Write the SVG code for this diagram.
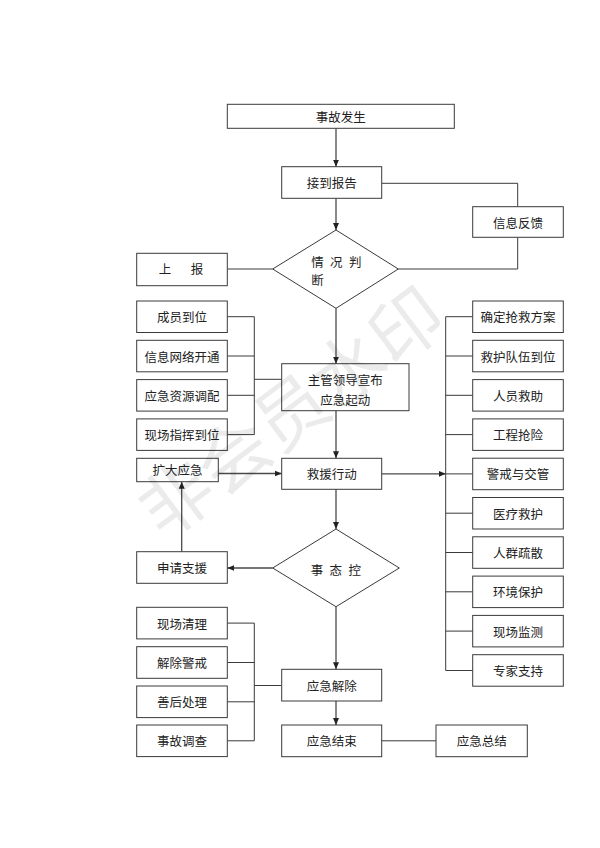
<svg xmlns="http://www.w3.org/2000/svg" width="600" height="848" viewBox="0 0 600 848">
<style>
.b{fill:#fff;stroke:#3a3a3a;stroke-width:1}
.t{font-family:"Noto Sans CJK SC","Liberation Sans",sans-serif;font-size:12.5px;fill:#222;text-anchor:middle;dominant-baseline:central}
.c{fill:none;stroke:#3a3a3a;stroke-width:1}
.a{fill:none;stroke:#4a4a4a;stroke-width:1.3;marker-end:url(#ah)}
.wm{font-family:"Noto Sans CJK SC",sans-serif;font-size:72px;fill:#000;fill-opacity:0.08;text-anchor:middle;dominant-baseline:central}
</style>
<defs>
<marker id="ah" markerWidth="8" markerHeight="8" refX="7" refY="4" orient="auto" markerUnits="userSpaceOnUse">
<path d="M0,1 L7,4 L0,7 Z" fill="#222"/>
</marker>
</defs>
<rect width="600" height="848" fill="#fff"/>
<g id="connectors">
<line class="a" x1="336" y1="128.3" x2="336" y2="166.7"/>
<line class="a" x1="336" y1="198.3" x2="336" y2="230"/>
<polyline class="c" points="381.7,183.3 517.7,183.3 517.7,206.7"/>
<polyline class="c" points="517.7,237.3 517.7,269 398.3,269"/>
<line class="c" x1="227.3" y1="269" x2="272.7" y2="269"/>
<line class="a" x1="336" y1="308.3" x2="336" y2="363.7"/>
<path class="c" d="M227.3,316.7H254.3M227.3,356H254.3M227.3,395.3H254.3M227.3,434.6H254.3M254.3,316.7V434.6M254.3,379.3H281.7"/>
<line class="a" x1="336" y1="410.7" x2="336" y2="458.3"/>
<line class="a" x1="218.3" y1="473.5" x2="281.7" y2="473.5"/>
<line class="a" x1="381.7" y1="473.8" x2="445.7" y2="473.8"/>
<path class="c" d="M445.7,316.7V670.5M445.7,316.7H472.7M445.7,356H472.7M445.7,395.3H472.7M445.7,434.6H472.7M445.7,473.9H472.7M445.7,513.2H472.7M445.7,552.5H472.7M445.7,591.8H472.7M445.7,631.1H472.7M445.7,670.5H472.7"/>
<line class="a" x1="336" y1="489.3" x2="336" y2="529"/>
<line class="a" x1="272.7" y1="568" x2="227.3" y2="568"/>
<line class="a" x1="181.7" y1="551.7" x2="181.7" y2="481.7"/>
<line class="a" x1="336" y1="606.7" x2="336" y2="669.3"/>
<path class="c" d="M227.3,623.1H254.3M227.3,662.5H254.3M227.3,701.8H254.3M227.3,740.8H254.3M254.3,623.1V740.8M254.3,685.5H281.7"/>
<line class="a" x1="336" y1="701" x2="336" y2="725"/>
<line class="c" x1="381.7" y1="740.8" x2="436" y2="740.8"/>
</g>
<g id="n_start"><rect class="b" x="227.3" y="104.3" width="227" height="24"/><text class="t" x="340.8" y="116.5">事故发生</text></g>
<g id="n_report"><rect class="b" x="281.7" y="166.7" width="100" height="31.6"/><text class="t" x="331.7" y="182.5">接到报告</text></g>
<g id="n_feedback"><rect class="b" x="472.7" y="206.7" width="90.6" height="30.6"/><text class="t" x="518" y="222">信息反馈</text></g>
<g id="d_judge"><polygon class="b" points="272.7,269 336,230 398.3,269 336,308.3"/><text class="t" style="text-anchor:start;letter-spacing:6.3px" x="311.3" y="261.5">情况判</text><text class="t" style="text-anchor:start" x="311.3" y="279.5">断</text></g>
<g id="n_up"><rect class="b" x="136.7" y="253.3" width="90.6" height="32.4"/><text class="t" x="165" y="268.5">上</text><text class="t" x="197" y="268.5">报</text></g>
<g id="n_l1"><rect class="b" x="136.7" y="301" width="90.6" height="31.5"/><text class="t" x="182" y="316.7">成员到位</text></g>
<g id="n_l2"><rect class="b" x="136.7" y="340.3" width="90.6" height="31.5"/><text class="t" x="182" y="356">信息网络开通</text></g>
<g id="n_l3"><rect class="b" x="136.7" y="379.6" width="90.6" height="31.5"/><text class="t" x="182" y="395.3">应急资源调配</text></g>
<g id="n_l4"><rect class="b" x="136.7" y="418.9" width="90.6" height="31.5"/><text class="t" x="182" y="434.6">现场指挥到位</text></g>
<g id="n_lead"><rect class="b" x="281.7" y="363.7" width="127.3" height="47"/><text class="t" x="345.3" y="379">主管领导宣布</text><text class="t" x="345.3" y="399">应急起动</text></g>
<g id="n_rescue"><rect class="b" x="281.7" y="458.3" width="100" height="31"/><text class="t" x="331.7" y="473.8">救援行动</text></g>
<g id="n_expand"><rect class="b" x="136.7" y="458.3" width="81.6" height="23.4"/><text class="t" x="177.5" y="469.5">扩大应急</text></g>
<g id="n_r1"><rect class="b" x="472.7" y="301" width="90.6" height="31.5"/><text class="t" x="518" y="316.7">确定抢救方案</text></g>
<g id="n_r2"><rect class="b" x="472.7" y="340.3" width="90.6" height="31.5"/><text class="t" x="518" y="356">救护队伍到位</text></g>
<g id="n_r3"><rect class="b" x="472.7" y="379.6" width="90.6" height="31.5"/><text class="t" x="518" y="395.3">人员救助</text></g>
<g id="n_r4"><rect class="b" x="472.7" y="418.9" width="90.6" height="31.5"/><text class="t" x="518" y="434.6">工程抢险</text></g>
<g id="n_r5"><rect class="b" x="472.7" y="458.2" width="90.6" height="31.5"/><text class="t" x="518" y="473.9">警戒与交管</text></g>
<g id="n_r6"><rect class="b" x="472.7" y="497.5" width="90.6" height="31.5"/><text class="t" x="518" y="513.2">医疗救护</text></g>
<g id="n_r7"><rect class="b" x="472.7" y="536.8" width="90.6" height="31.5"/><text class="t" x="518" y="552.5">人群疏散</text></g>
<g id="n_r8"><rect class="b" x="472.7" y="576.1" width="90.6" height="31.5"/><text class="t" x="518" y="591.8">环境保护</text></g>
<g id="n_r9"><rect class="b" x="472.7" y="615.4" width="90.6" height="31.5"/><text class="t" x="518" y="631.1">现场监测</text></g>
<g id="n_r10"><rect class="b" x="472.7" y="654.7" width="90.6" height="31.5"/><text class="t" x="518" y="670.5">专家支持</text></g>
<g id="d_control"><polygon class="b" points="272.7,568 336,529 399.3,568 336,606.7"/><text class="t" style="letter-spacing:6.3px" x="339" y="569">事态控</text></g>
<g id="n_support"><rect class="b" x="136.7" y="551.7" width="90.6" height="31.6"/><text class="t" x="182" y="567.5">申请支援</text></g>
<g id="n_b1"><rect class="b" x="136.7" y="607.3" width="90.6" height="31.6"/><text class="t" x="182" y="623.1">现场清理</text></g>
<g id="n_b2"><rect class="b" x="136.7" y="646.7" width="90.6" height="31.6"/><text class="t" x="182" y="662.5">解除警戒</text></g>
<g id="n_b3"><rect class="b" x="136.7" y="686" width="90.6" height="31.6"/><text class="t" x="182" y="701.8">善后处理</text></g>
<g id="n_b4"><rect class="b" x="136.7" y="725" width="90.6" height="31.6"/><text class="t" x="182" y="740.8">事故调查</text></g>
<g id="n_lift"><rect class="b" x="281.7" y="669.3" width="100" height="31.7"/><text class="t" x="331.7" y="685.2">应急解除</text></g>
<g id="n_end"><rect class="b" x="281.7" y="725" width="100" height="31.7"/><text class="t" x="331.7" y="740.8">应急结束</text></g>
<g id="n_sum"><rect class="b" x="436" y="725" width="91.3" height="31.7"/><text class="t" x="481.7" y="740.8">应急总结</text></g>
<text class="wm" x="288" y="408" transform="rotate(-37 288 408)">非会员水印</text>
</svg>
